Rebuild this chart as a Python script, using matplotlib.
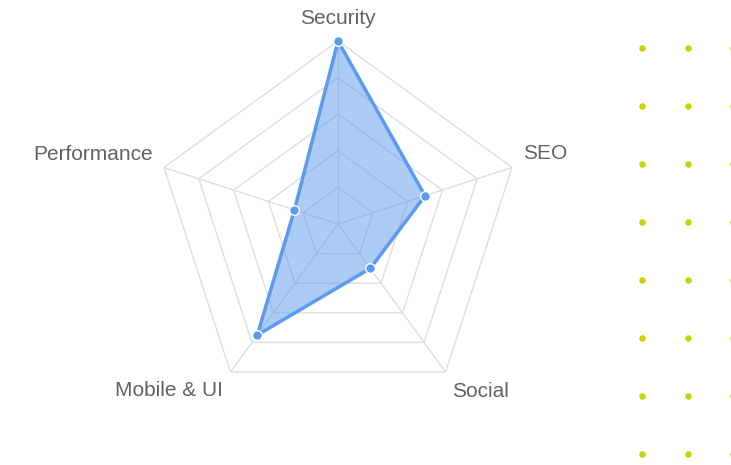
import numpy as np
import matplotlib
matplotlib.use("Agg")
import matplotlib.pyplot as plt

categories = ["Security", "SEO", "Social", "Mobile & UI", "Performance"]
values = [100, 50, 30, 75, 25]
ring_levels = [20, 40, 60, 80, 100]

# label offsets (pixels) relative to each outer vertex, with alignment
label_offsets = [(0, 23, "center"), (11, 14, "left"), (6, -19, "left"),
                 (-8, -18, "right"), (-11, 13, "right")]

fig = plt.figure(figsize=(7.31, 4.65), dpi=100)
fig.patch.set_facecolor("white")

# decorative dot grid (in pixel coordinates of an overlay axes)
bg = fig.add_axes([0, 0, 1, 1], zorder=0)
bg.set_xlim(0, 731)
bg.set_ylim(465, 0)
bg.axis("off")
dot_cols = [641.7, 687.7, 732.5]
dot_rows = [48, 106, 164, 222, 280, 338, 396, 454]
dx, dy = np.meshgrid(dot_cols, dot_rows)
bg.scatter(dx.ravel(), dy.ravel(), s=22, color="#c8d400", linewidths=0,
           clip_on=False)

cx, cy, R = 338, 224, 183
W, H = 731, 465
ax = fig.add_axes([(cx - R) / W, (H - cy - R) / H, 2 * R / W, 2 * R / H],
                  projection="polar", zorder=1)
ax.set_theta_offset(np.pi / 2)
ax.set_theta_direction(-1)
ax.set_ylim(0, 100)
ax.grid(False)
ax.set_xticks([])
ax.set_yticks([])
ax.spines["polar"].set_visible(False)
ax.patch.set_alpha(0)

n = len(categories)
angles = np.arange(n) * 2 * np.pi / n
closed = np.append(angles, angles[0])

grid_color = "#dedede"
for lvl in ring_levels:
    ax.plot(closed, [lvl] * (n + 1), color=grid_color, lw=1, zorder=1)
for a in angles:
    ax.plot([a, a], [0, 100], color=grid_color, lw=1, zorder=1)

vals = np.append(values, values[0])
blue = "#5b9bef"
ax.fill(closed, vals, color=blue, alpha=0.5, lw=0, zorder=2)
ax.plot(closed, vals, color=blue, lw=2.5, zorder=3)
ax.plot(angles, values, "o", color=blue, markersize=7, markeredgecolor="white",
        markeredgewidth=1, zorder=4, clip_on=False)

for a, lab, (ox, oy, ha) in zip(angles, categories, label_offsets):
    ax.annotate(lab, xy=(a, 100), xytext=(ox, oy), textcoords="offset pixels",
                ha=ha, va="center", fontsize=15, color="#626262",
                family="Liberation Sans", annotation_clip=False)

fig.savefig("out.png", dpi=100, facecolor="white")
